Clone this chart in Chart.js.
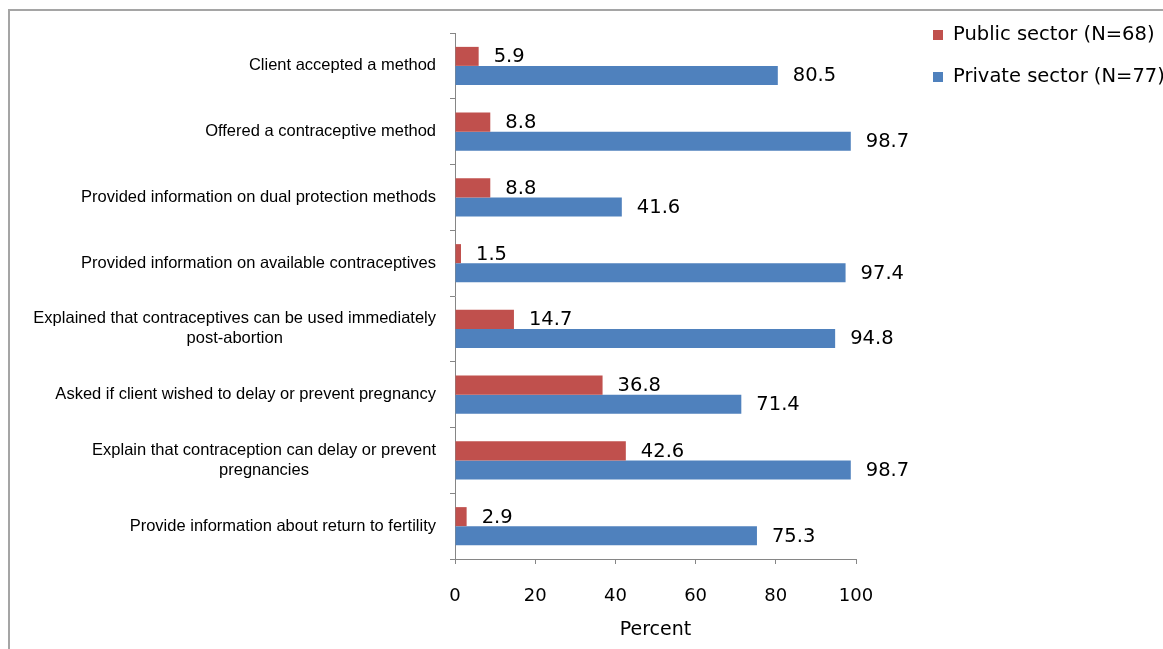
<!DOCTYPE html>
<html>
<head>
<meta charset="utf-8">
<script src="https://cdn.jsdelivr.net/npm/chart.js@4"></script>
<style>
  html, body { margin: 0; padding: 0; background: #fff; overflow: hidden; }
  #wrap { position: relative; width: 1163px; height: 649px; }
  #frame {
    position: absolute; left: 8px; top: 9px; width: 2000px; height: 2000px;
    border-left: 2px solid #a5a5a5; border-top: 2px solid #a5a5a5;
    pointer-events: none;
  }
  canvas { position: absolute; left: 0; top: 0; }
</style>
</head>
<body>
<div id="wrap">
  <div id="frame"></div>
  <canvas id="chart" width="1163" height="649"></canvas>
</div>
<script>
const categories = [
  ["Client accepted a method"],
  ["Offered a contraceptive method"],
  ["Provided information on dual protection methods"],
  ["Provided information on available contraceptives"],
  ["Explained that contraceptives can be used immediately", "post-abortion"],
  ["Asked if client wished to delay or prevent pregnancy"],
  ["Explain that contraception can delay or prevent", "pregnancies"],
  ["Provide information about return to fertility"]
];
const publicSector = [5.9, 8.8, 8.8, 1.5, 14.7, 36.8, 42.6, 2.9];
const privateSector = [80.5, 98.7, 41.6, 97.4, 94.8, 71.4, 98.7, 75.3];
const seriesNames = ["Public sector (N=68)", "Private sector (N=77)"];
const seriesColors = ["#c0504d", "#4f81bd"];
const axisColor = "#868686";

// category labels, right-anchored block with centred lines (like the original)
const categoryLabels = {
  id: "categoryLabels",
  afterDraw(c) {
    const ctx = c.ctx;
    const y = c.scales.y;
    const right = c.chartArea.left - 19;
    const lineH = 20;
    ctx.save();
    ctx.font = "16.5px 'Liberation Sans', Arial, sans-serif";
    ctx.fillStyle = "#000";
    ctx.textAlign = "center";
    ctx.textBaseline = "middle";
    c.data.labels.forEach((lines, i) => {
      const cy = y.getPixelForValue(i);
      const w = Math.max(...lines.map(l => ctx.measureText(l).width));
      const cx = right - w / 2;
      const y0 = cy - (lines.length - 1) * lineH / 2;
      lines.forEach((l, k) => ctx.fillText(l, cx, y0 + k * lineH));
    });
    ctx.restore();
  }
};

// value labels to the right of each bar
const valueLabels = {
  id: "valueLabels",
  afterDatasetsDraw(c) {
    const ctx = c.ctx;
    ctx.save();
    ctx.font = "19.5px 'DejaVu Sans', sans-serif";
    ctx.fillStyle = "#000";
    ctx.textAlign = "left";
    ctx.textBaseline = "middle";
    c.data.datasets.forEach((ds, di) => {
      c.getDatasetMeta(di).data.forEach((bar, i) => {
        ctx.fillText(ds.data[i].toFixed(1), bar.x + 15, bar.y + 1);
      });
    });
    ctx.restore();
  }
};

// legend in the top right corner
const cornerLegend = {
  id: "cornerLegend",
  afterDraw(c) {
    const ctx = c.ctx;
    ctx.save();
    ctx.font = "19.5px 'DejaVu Sans', sans-serif";
    ctx.textAlign = "left";
    ctx.textBaseline = "middle";
    c.data.datasets.forEach((ds, i) => {
      const cy = 35 + i * 42;
      ctx.fillStyle = ds.backgroundColor;
      ctx.fillRect(933, cy - 5, 10, 10);
      ctx.fillStyle = "#000";
      ctx.fillText(ds.label, 953, cy);
    });
    ctx.restore();
  }
};

new Chart(document.getElementById("chart"), {
  type: "bar",
  data: {
    labels: categories,
    datasets: [
      { label: seriesNames[0], data: publicSector, backgroundColor: seriesColors[0] },
      { label: seriesNames[1], data: privateSector, backgroundColor: seriesColors[1] }
    ]
  },
  options: {
    indexAxis: "y",
    responsive: false,
    animation: false,
    categoryPercentage: 0.578,
    barPercentage: 1,
    layout: { padding: { left: 445, right: 307, top: 33, bottom: 0 } },
    plugins: {
      legend: { display: false },
      tooltip: { enabled: false }
    },
    scales: {
      x: {
        min: 0,
        max: 100,
        ticks: {
          stepSize: 20,
          color: "#000",
          padding: 22,
          font: { family: "'DejaVu Sans', sans-serif", size: 18 }
        },
        grid: { drawOnChartArea: false, tickLength: 5, color: axisColor },
        border: { color: axisColor },
        title: {
          display: true,
          text: "Percent",
          color: "#000",
          font: { family: "'DejaVu Sans', sans-serif", size: 19 },
          padding: { top: 0, bottom: 8 }
        },
        afterFit(s) { s.height = 90; }
      },
      y: {
        ticks: { display: false },
        grid: { offset: true, drawOnChartArea: false, tickLength: 5, color: axisColor },
        border: { color: axisColor },
        afterFit(s) { s.width = 10; }
      }
    }
  },
  plugins: [categoryLabels, valueLabels, cornerLegend]
});
</script>
</body>
</html>
